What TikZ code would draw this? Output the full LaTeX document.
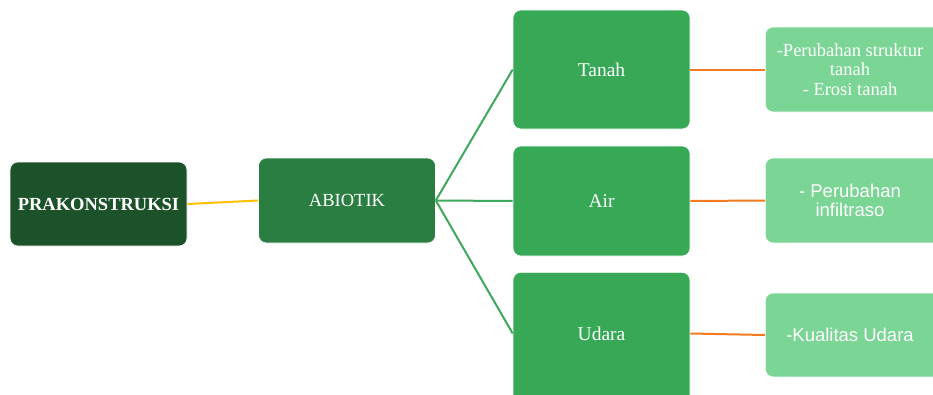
\documentclass[tikz,border=0pt]{standalone}
\usepackage{fontspec}
\setmainfont{Liberation Serif}
\newfontfamily\sansf{Liberation Sans}
\definecolor{cdark}{HTML}{1C5229}
\definecolor{cmid}{HTML}{2A7E41}
\definecolor{cgreen}{HTML}{37A856}
\definecolor{clight}{HTML}{7BD595}
\definecolor{lyellow}{HTML}{FFC000}
\definecolor{lgreen}{HTML}{3DAA5B}
\definecolor{lorange}{HTML}{F47A22}
\tikzset{
  box/.style={rectangle, rounded corners=8pt, draw=white, line width=0.6pt, text=white, align=center, inner sep=2pt, font=\fontsize{18.5}{20}\selectfont},
  lnk/.style={line width=2pt},
}
\begin{document}
\begin{tikzpicture}[x=1pt,y=-1pt]
\useasboundingbox (0,0) rectangle (933,394);
\clip (0,0) rectangle (933,394);
\node[box, fill=cdark, minimum width=177pt, minimum height=84pt, font=\fontsize{18.5}{20}\selectfont\bfseries] (prak) at (98.5,204) {PRAKONSTRUKSI};
\node[box, fill=cmid, minimum width=177pt, minimum height=85pt] (abiotik) at (347,200.5) {ABIOTIK};
\node[box, fill=cgreen, minimum width=177pt, minimum height=119pt, font=\fontsize{19.5}{20}\selectfont] (tanah) at (601.5,69.5) {Tanah};
\node[box, fill=cgreen, minimum width=177pt, minimum height=110pt, font=\fontsize{19.5}{20}\selectfont] (air) at (601.5,201) {Air};
\node[box, fill=cgreen, minimum width=177pt, minimum height=136pt, font=\fontsize{19.5}{20}\selectfont, anchor=north] (udara) at (601.5,272) {};
\node[text=white, font=\fontsize{19.5}{20}\selectfont] (udarat) at (601.5,333.5) {Udara};
\coordinate (udaraw) at (udara.west |- udarat);
\coordinate (udarae) at (udara.east |- udarat);
\node[box, fill=clight, minimum width=177pt, minimum height=85pt, anchor=west] (tanahd) at (765,69.5) {};
\node[box, fill=clight, minimum width=177pt, minimum height=85pt, anchor=west] (aird) at (765,200.5) {};
\node[box, fill=clight, minimum width=177pt, minimum height=84pt, anchor=west] (udarad) at (765,335) {};
\node[text=white, align=center, font=\fontsize{18.5}{19.5}\selectfont] (tanaht) at (850,69.5) {-Perubahan struktur\\tanah\\- Erosi tanah};
\node[text=white, align=center, font=\sansf\fontsize{18.5}{19.5}\selectfont] (airt) at (850,200.5) {- Perubahan\\infiltraso};
\node[text=white, align=center, font=\sansf\fontsize{18.5}{19.5}\selectfont] (udaradt) at (850,335) {-Kualitas Udara};
\draw[lnk, lyellow] (prak.east) -- (abiotik.west);
\draw[lnk, lgreen] (abiotik.east) -- (tanah.west);
\draw[lnk, lgreen] (abiotik.east) -- (air.west);
\draw[lnk, lgreen] (abiotik.east) -- (udaraw);
\draw[lnk, lorange] (tanah.east) -- (tanahd.west);
\draw[lnk, lorange] (air.east) -- (aird.west);
\draw[lnk, lorange] (udarae) -- (udarad.west);
\end{tikzpicture}
\end{document}
